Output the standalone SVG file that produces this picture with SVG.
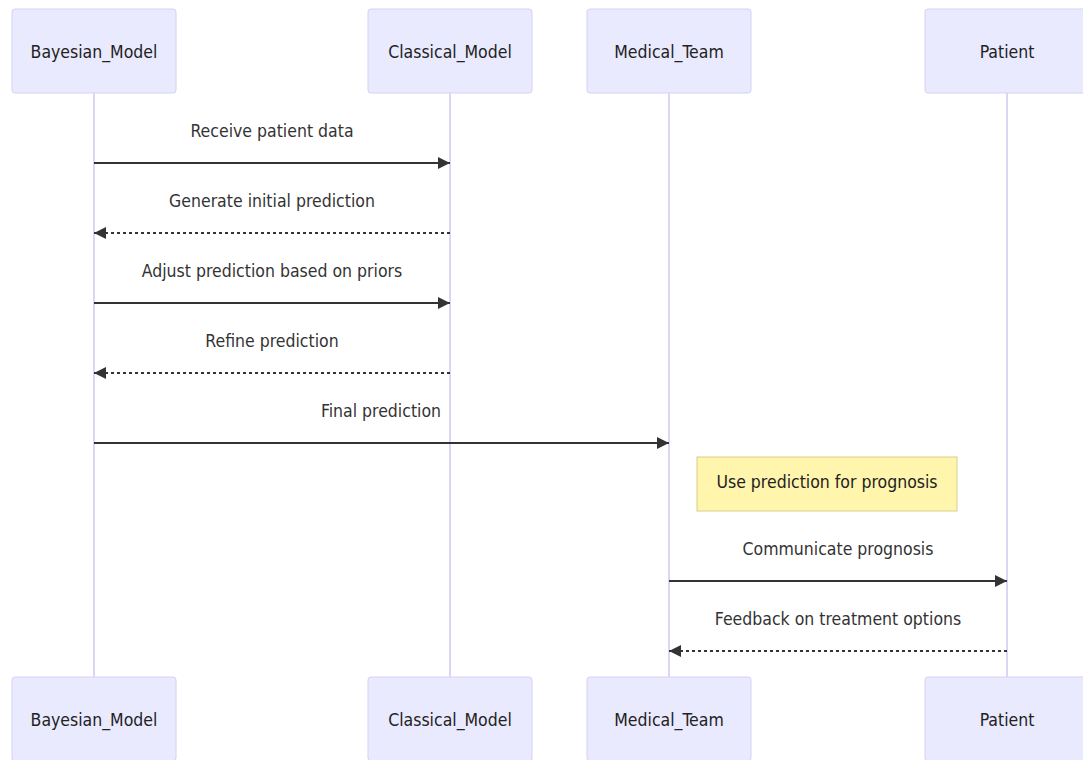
<svg xmlns="http://www.w3.org/2000/svg" width="1083" height="760" viewBox="0 0 1083 760">
<style>
.actor{fill:#eaeaff;stroke:#d4d0f5;stroke-width:1}
.atext{font-family:"DejaVu Sans Condensed","DejaVu Sans",sans-serif;font-size:17.5px;fill:#222;text-anchor:middle;dominant-baseline:central}
.life{stroke:#d0c8f0;stroke-width:1.5}
.msg{stroke:#333;stroke-width:2;fill:none}
.dash{stroke-dasharray:3,3}
.mtext{font-family:"DejaVu Sans Condensed","DejaVu Sans",sans-serif;font-size:17.5px;fill:#333;text-anchor:middle;dominant-baseline:central}
.note{fill:#fff5ad;stroke:#d6d08a;stroke-width:1}
</style>
<defs>
<marker id="ah" viewBox="0 0 12 12" refX="12" refY="6" markerWidth="12" markerHeight="12" markerUnits="userSpaceOnUse" orient="auto">
<path d="M0,0 L12,6 L0,12 z" fill="#333"/>
</marker>
</defs>
<rect width="1083" height="760" fill="#ffffff"/>
<g id="lifelines">
<line class="life" x1="94" y1="93" x2="94" y2="677"/>
<line class="life" x1="450" y1="93" x2="450" y2="677"/>
<line class="life" x1="669" y1="93" x2="669" y2="677"/>
<line class="life" x1="1007" y1="93" x2="1007" y2="677"/>
</g>
<g id="Bayesian_Model">
<rect class="actor" x="12" y="9" width="164" height="84" rx="3"/>
<text class="atext" x="94" y="52">Bayesian_Model</text>
<rect class="actor" x="12" y="677" width="164" height="84" rx="3"/>
<text class="atext" x="94" y="720">Bayesian_Model</text>
</g>
<g id="Classical_Model">
<rect class="actor" x="368" y="9" width="164" height="84" rx="3"/>
<text class="atext" x="450" y="52">Classical_Model</text>
<rect class="actor" x="368" y="677" width="164" height="84" rx="3"/>
<text class="atext" x="450" y="720">Classical_Model</text>
</g>
<g id="Medical_Team">
<rect class="actor" x="587" y="9" width="164" height="84" rx="3"/>
<text class="atext" x="669" y="52">Medical_Team</text>
<rect class="actor" x="587" y="677" width="164" height="84" rx="3"/>
<text class="atext" x="669" y="720">Medical_Team</text>
</g>
<g id="Patient">
<rect class="actor" x="925" y="9" width="164" height="84" rx="3"/>
<text class="atext" x="1007" y="52">Patient</text>
<rect class="actor" x="925" y="677" width="164" height="84" rx="3"/>
<text class="atext" x="1007" y="720">Patient</text>
</g>
<g id="note">
<rect class="note" x="697" y="457" width="260" height="54"/>
<text class="atext" x="827" y="482">Use prediction for prognosis</text>
</g>
<g id="connectors">
<text class="mtext" x="272" y="131">Receive patient data</text>
<line class="msg" x1="94" y1="163" x2="450" y2="163" marker-end="url(#ah)"/>
<text class="mtext" x="272" y="201">Generate initial prediction</text>
<line class="msg dash" x1="450" y1="233" x2="94" y2="233" marker-end="url(#ah)"/>
<text class="mtext" x="272" y="271">Adjust prediction based on priors</text>
<line class="msg" x1="94" y1="303" x2="450" y2="303" marker-end="url(#ah)"/>
<text class="mtext" x="272" y="341">Refine prediction</text>
<line class="msg dash" x1="450" y1="373" x2="94" y2="373" marker-end="url(#ah)"/>
<text class="mtext" x="381" y="411">Final prediction</text>
<line class="msg" x1="94" y1="443" x2="669" y2="443" marker-end="url(#ah)"/>
<text class="mtext" x="838" y="549">Communicate prognosis</text>
<line class="msg" x1="669" y1="581" x2="1007" y2="581" marker-end="url(#ah)"/>
<text class="mtext" x="838" y="619">Feedback on treatment options</text>
<line class="msg dash" x1="1007" y1="651" x2="669" y2="651" marker-end="url(#ah)"/>
</g>
</svg>
